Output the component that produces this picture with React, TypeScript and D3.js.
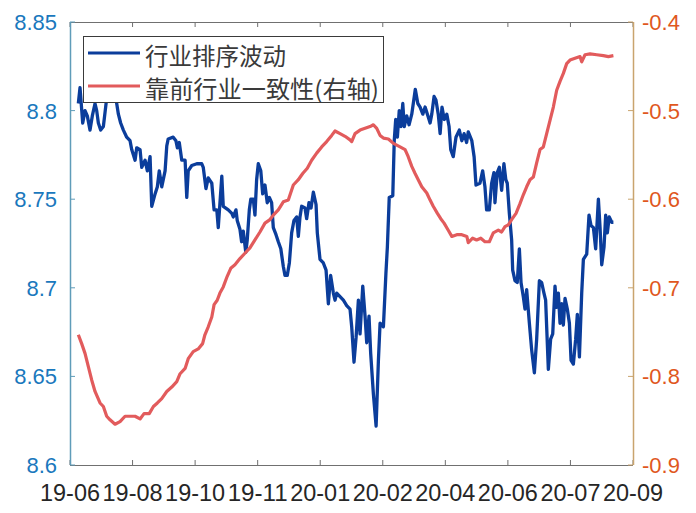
import React from "react";
import * as d3 from "d3";

// x positions are trading-day indices (0..270), ticks every 30 days
const xTickLabels = ["19-06", "19-08", "19-10", "19-11", "20-01", "20-02", "20-04", "20-06", "20-07", "20-09"];
const leftTicks = [8.6, 8.65, 8.7, 8.75, 8.8, 8.85];
const rightTicks = [-0.9, -0.8, -0.7, -0.6, -0.5, -0.4];
const seriesNames = ["行业排序波动", "靠前行业一致性(右轴)"];

// 行业排序波动 (left axis)
const blueIdx = [
  4, 4.8, 6.1, 7.2, 8.3, 9.6, 10.7, 12, 12.8, 13.6, 14.7, 16, 16.8, 17.9, 20.1, 22.4, 23.2, 24.3, 25.6, 27.2,
  28.8, 29.6, 31.2, 32, 33.6, 34.4, 36, 37.1, 38.4, 39.2, 40.8, 41.9, 42.8, 44, 45.6, 46.4, 47.1, 49.5, 50.8, 51.5,
  52.4, 53.6, 55.2, 56, 56.7, 58.4, 60.8, 63.2, 63.9, 65.2, 66.3, 68, 69.1, 70.4, 71.1, 72.8, 73.5, 75.9, 77.6, 78.3,
  79.6, 80.2, 81.5, 82.3, 83.1, 84.3, 85, 86, 86.7, 87.9, 88.7, 89.5, 90.3, 91.5, 92.4, 93.5, 94.6, 95.6, 96.7, 97.5,
  98.8, 99.9, 101.1, 102.3, 103.1, 104.2, 105.2, 106.3, 107.4, 108.7, 109.5, 110.3, 111.1, 112.7, 113.5, 114.6, 115.6, 116.7, 118, 118.6,
  119.9, 121.5, 122.8, 123.9, 125, 126.3, 127.1, 127.9, 129.5, 131.1, 132.7, 134.3, 135.1, 136.2, 137.2, 138.3, 139.1, 140.4, 141.5, 142.3,
  143.4, 144.2, 145.5, 146.8, 147.9, 148.7, 150.3, 151.5, 152.2, 153.1, 154.8, 155.5, 156.2, 157, 157.9, 158.7, 159.6, 160.3, 161.5, 162.6,
  163.9, 165.6, 166.8, 167.9, 169.2, 170.3, 171.4, 172.7, 173.5, 174.6, 175.5, 176.6, 177.5, 178.4, 179.5, 180.7, 181.8, 182.6, 183.8, 185.1,
  186.7, 187.9, 189, 190.2, 191, 192.7, 193.8, 194.7, 196.6, 197.9, 199, 199.8, 201.1, 202.2, 203.3, 203.8, 204.9, 205.9, 207, 208.1,
  209, 209.7, 210.7, 211.8, 212.3, 213.4, 214.5, 215.5, 216.3, 217.4, 218.2, 219, 220.3, 221.4, 222.7, 223.8, 225.1, 226.2, 227.3, 228.1,
  229.4, 230.5, 231.5, 232.6, 233.4, 234.2, 235, 235.8, 236.6, 237.4, 238.5, 239.5, 240.3, 241.4, 242.5, 243.3, 244.3, 245.4, 246.2, 247.8,
  248.9, 249.9, 251, 252.1, 253.4, 254.2, 255, 256.1, 256.9, 257.7, 258.6, 259.8, 260.6,
];
const blueVal = [
  8.804, 8.813, 8.793, 8.8, 8.797, 8.789, 8.797, 8.804, 8.8, 8.793, 8.789, 8.791, 8.799, 8.81, 8.82, 8.804, 8.798, 8.793, 8.789, 8.785,
  8.783, 8.778, 8.772, 8.779, 8.778, 8.768, 8.772, 8.766, 8.774, 8.746, 8.753, 8.757, 8.766, 8.757, 8.766, 8.78, 8.784, 8.785, 8.783, 8.779,
  8.782, 8.772, 8.772, 8.751, 8.766, 8.769, 8.77, 8.77, 8.768, 8.756, 8.762, 8.759, 8.744, 8.744, 8.734, 8.763, 8.746, 8.744, 8.742, 8.74,
  8.744, 8.738, 8.733, 8.726, 8.732, 8.72, 8.727, 8.744, 8.75, 8.75, 8.741, 8.761, 8.77, 8.766, 8.753, 8.758, 8.748, 8.751, 8.748, 8.734,
  8.73, 8.726, 8.722, 8.712, 8.707, 8.707, 8.714, 8.731, 8.738, 8.74, 8.729, 8.74, 8.746, 8.745, 8.739, 8.748, 8.745, 8.754, 8.747, 8.731,
  8.716, 8.714, 8.71, 8.691, 8.707, 8.697, 8.693, 8.697, 8.695, 8.693, 8.69, 8.688, 8.678, 8.658, 8.672, 8.693, 8.674, 8.701, 8.684, 8.669,
  8.684, 8.663, 8.64, 8.622, 8.659, 8.68, 8.678, 8.708, 8.723, 8.751, 8.752, 8.783, 8.795, 8.785, 8.8, 8.791, 8.804, 8.791, 8.797, 8.792,
  8.798, 8.812, 8.804, 8.802, 8.798, 8.802, 8.798, 8.793, 8.798, 8.808, 8.806, 8.798, 8.787, 8.802, 8.795, 8.798, 8.791, 8.778, 8.774, 8.785,
  8.789, 8.783, 8.787, 8.782, 8.788, 8.783, 8.774, 8.758, 8.759, 8.766, 8.757, 8.744, 8.744, 8.759, 8.765, 8.748, 8.765, 8.768, 8.755, 8.77,
  8.761, 8.759, 8.742, 8.727, 8.71, 8.704, 8.703, 8.722, 8.703, 8.695, 8.688, 8.699, 8.68, 8.665, 8.652, 8.671, 8.704, 8.703, 8.697, 8.693,
  8.654, 8.671, 8.674, 8.701, 8.689, 8.697, 8.68, 8.691, 8.679, 8.694, 8.688, 8.68, 8.659, 8.657, 8.671, 8.685, 8.661, 8.697, 8.716, 8.719,
  8.741, 8.735, 8.734, 8.722, 8.75, 8.734, 8.713, 8.723, 8.741, 8.731, 8.74, 8.737, 8.737,
];

// 靠前行业一致性 (right axis)
const redIdx = [
  4, 5.6, 7.2, 8.8, 10.4, 12, 14.4, 16, 17.6, 19.2, 21.6, 24, 26.4, 28.8, 31.2, 33.6, 35.5, 38, 40, 41.9,
  44, 46.4, 48.8, 51.2, 52.8, 55.2, 56.7, 59.1, 61.5, 63.6, 64.7, 66.3, 68, 69.1, 70.6, 71.9, 73.5, 75.4, 77.1, 79.1,
  81.5, 83.9, 86.3, 88.7, 91.1, 93.5, 95.9, 97.5, 99.9, 102.3, 104.7, 107.1, 109.5, 111.6, 113.8, 115.9, 118.3, 120.7, 123.1, 125.5,
  127.1, 129.5, 131.9, 134.3, 135.1, 136.7, 139.1, 141.5, 143.9, 145.5, 147.1, 148.7, 150.3, 152.7, 155.1, 158.3, 160.7, 162.2, 163.9, 165.5,
  167, 168.7, 171.1, 172.7, 174.2, 176.2, 177.8, 179.4, 181.4, 183.1, 185.5, 187.9, 190.3, 191, 193.1, 195, 197, 199, 201.1, 203,
  205.4, 207, 208.6, 210.2, 211.8, 213.9, 215.8, 217.4, 219, 220.6, 222.2, 223.8, 225.4, 227, 228.6, 230.2, 231.8, 233.4, 235, 236.6,
  238.2, 239.8, 242.2, 244.6, 245.4, 247, 249.4, 252.6, 255.8, 258.2, 260.6,
];
const redVal = [
  -0.753, -0.763, -0.774, -0.789, -0.804, -0.817, -0.83, -0.834, -0.845, -0.849, -0.854, -0.851, -0.845, -0.845, -0.845, -0.848, -0.842, -0.842, -0.834, -0.83,
  -0.825, -0.817, -0.812, -0.806, -0.797, -0.791, -0.78, -0.772, -0.769, -0.763, -0.753, -0.744, -0.733, -0.719, -0.714, -0.706, -0.699, -0.687, -0.678, -0.674,
  -0.667, -0.661, -0.655, -0.646, -0.637, -0.627, -0.623, -0.618, -0.612, -0.603, -0.601, -0.584, -0.578, -0.571, -0.565, -0.556, -0.548, -0.541, -0.535, -0.528,
  -0.523, -0.526, -0.529, -0.533, -0.535, -0.526, -0.522, -0.52, -0.518, -0.516, -0.52, -0.528, -0.531, -0.532, -0.537, -0.541, -0.544, -0.552, -0.563, -0.571,
  -0.578, -0.586, -0.593, -0.601, -0.608, -0.616, -0.622, -0.627, -0.635, -0.642, -0.64, -0.64, -0.642, -0.649, -0.644, -0.646, -0.644, -0.648, -0.648, -0.638,
  -0.635, -0.637, -0.631, -0.629, -0.623, -0.616, -0.605, -0.595, -0.586, -0.578, -0.575, -0.559, -0.544, -0.541, -0.526, -0.511, -0.496, -0.477, -0.467, -0.458,
  -0.447, -0.443, -0.441, -0.439, -0.445, -0.437, -0.436, -0.437, -0.438, -0.439, -0.438,
];

const W = 696;
const H = 513;
const M = { left: 70, right: 633, top: 22, bottom: 465 };

export default function App() {
  const x = d3.scaleLinear().domain([0, 270]).range([M.left, M.right]);
  const yL = d3.scaleLinear().domain([8.6, 8.85]).range([M.bottom, M.top]);
  const yR = d3.scaleLinear().domain([-0.9, -0.4]).range([M.bottom, M.top]);
  const xTicks = xTickLabels.map((_, i) => i * 30);

  const blueData = blueIdx.map((d, i) => [d, blueVal[i]] as [number, number]);
  const redData = redIdx.map((d, i) => [d, redVal[i]] as [number, number]);
  const blueLine = d3.line<[number, number]>().x((d) => x(d[0])).y((d) => yL(d[1]));
  const redLine = d3.line<[number, number]>().x((d) => x(d[0])).y((d) => yR(d[1]));

  const numFont = "'Liberation Sans', Arial, Helvetica, sans-serif";
  const cjkFont = "'Noto Sans CJK SC', 'Noto Sans', sans-serif";
  const blueC = "#0b3d9b";
  const redC = "#e25b5c";
  const leftAxisC = "#5f9cb9";
  const rightAxisC = "#c9a46e";
  const frameC = "#707070";
  const tl = 5;

  const lg = { x: 83, y: 36, w: 300, h: 66 };

  return (
    <svg
      width={W}
      height={H}
      viewBox={`0 0 ${W} ${H}`}
      style={{ position: "absolute", left: 0, top: 0, background: "#fff" }}
    >
      <rect x={0} y={0} width={W} height={H} fill="#fff" />

      {/* top & bottom frame */}
      <line x1={M.left} x2={M.right} y1={M.top + 0.5} y2={M.top + 0.5} stroke={frameC} strokeWidth={1.2} />
      <line x1={M.left} x2={M.right} y1={M.bottom + 0.5} y2={M.bottom + 0.5} stroke={frameC} strokeWidth={1.2} />
      {xTicks.map((t) => (
        <g key={`xt${t}`}>
          <line x1={x(t)} x2={x(t)} y1={M.bottom} y2={M.bottom - tl} stroke={frameC} strokeWidth={1} />
          <line x1={x(t)} x2={x(t)} y1={M.top} y2={M.top + tl} stroke={frameC} strokeWidth={1} />
        </g>
      ))}
      {xTickLabels.map((lab, i) => (
        <text
          key={`xl${i}`}
          x={x(xTicks[i])}
          y={501}
          textAnchor="middle"
          fontFamily={numFont}
          fontSize={23}
          fill="#262626"
          textLength={60}
          lengthAdjust="spacingAndGlyphs"
        >
          {lab}
        </text>
      ))}

      {/* left axis */}
      <line x1={M.left + 0.5} x2={M.left + 0.5} y1={M.top} y2={M.bottom} stroke={leftAxisC} strokeWidth={1.5} />
      {leftTicks.map((t) => (
        <g key={`lt${t}`}>
          <line x1={M.left} x2={M.left + tl} y1={yL(t)} y2={yL(t)} stroke={leftAxisC} strokeWidth={1} />
          <text
            x={M.left - 13}
            y={yL(t) + 8}
            textAnchor="end"
            fontFamily={numFont}
            fontSize={22}
            fill="#1a78bd"
          >
            {String(t)}
          </text>
        </g>
      ))}

      {/* right axis */}
      <line x1={M.right + 0.5} x2={M.right + 0.5} y1={M.top} y2={M.bottom} stroke={rightAxisC} strokeWidth={1.5} />
      {rightTicks.map((t) => (
        <g key={`rt${t}`}>
          <line x1={M.right} x2={M.right - tl} y1={yR(t)} y2={yR(t)} stroke={rightAxisC} strokeWidth={1} />
          <text
            x={M.right + 9}
            y={yR(t) + 8}
            textAnchor="start"
            fontFamily={numFont}
            fontSize={22}
            fill="#e0571d"
          >
            {t.toFixed(1)}
          </text>
        </g>
      ))}

      {/* series */}
      <path d={blueLine(blueData) || ""} fill="none" stroke={blueC} strokeWidth={3.3} strokeLinejoin="round" />
      <path d={redLine(redData) || ""} fill="none" stroke={redC} strokeWidth={3.2} strokeLinejoin="round" />

      {/* legend */}
      <rect x={lg.x + 0.5} y={lg.y + 0.5} width={lg.w} height={lg.h} fill="#fff" stroke="#3a3a3a" strokeWidth={1} />
      <line x1={lg.x + 5} x2={lg.x + 57} y1={53} y2={53} stroke={blueC} strokeWidth={3} />
      <line x1={lg.x + 5} x2={lg.x + 57} y1={86} y2={86} stroke={redC} strokeWidth={3} />
      <text x={lg.x + 62} y={65} fontFamily={cjkFont} fontSize={23.5} fill="#3a3a3a">
        {seriesNames[0]}
      </text>
      <text x={lg.x + 62} y={98} fontFamily={cjkFont} fontSize={23.5} fill="#3a3a3a" textLength={234} lengthAdjust="spacingAndGlyphs">
        {seriesNames[1]}
      </text>
    </svg>
  );
}
